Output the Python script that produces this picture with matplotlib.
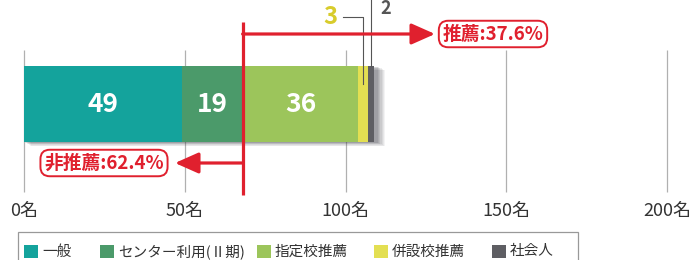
import matplotlib
matplotlib.use("Agg")
import matplotlib.pyplot as plt
from matplotlib.patches import Rectangle
import matplotlib.transforms as mtransforms
import numpy as np

plt.rcParams['font.family'] = ['Noto Sans CJK JP', 'DejaVu Sans']

# ---- data ----
categories = ["一般", "センター利用(Ⅱ期)", "指定校推薦", "併設校推薦", "社会人"]
values = [49, 19, 36, 3, 2]
colors = ["#14a39c", "#4b9a6a", "#9cc55b", "#e3df52", "#5e5e63"]
ticks = [0, 50, 100, 150, 200]
tick_labels = ["0名", "50名", "100名", "150名", "200名"]
label_recommend = "推薦:37.6%"
label_nonrecommend = "非推薦:62.4%"
n_nonrecommend_groups = 2  # 一般 + センター利用

RED = "#e0202e"

W, H = 697, 260
fig = plt.figure(figsize=(W / 100, H / 100), dpi=100)
ax = fig.add_axes([0, 0, 1, 1])
PX = 3.215  # pixels per unit
X0 = 24
ax.set_xlim(-X0 / PX, (W - X0) / PX)
ax.set_ylim(H, 0)
ax.axis("off")

# pixel transform (y downward)
P = mtransforms.Affine2D().scale(1 / W, -1 / H).translate(0, 1) + fig.transFigure

# grid lines
ax.vlines(ticks, 50, 192, colors="#b0b0b0", lw=0.9, zorder=1)
for t, lab in zip(ticks, tick_labels):
    ax.text(t, 211, lab, ha="center", va="center", fontsize=13, color="#333333")

# bar
bar_y, bar_h = 104, 76
lefts = np.concatenate([[0], np.cumsum(values)[:-1]])
total = sum(values)
# shadow
for i, a in enumerate([0.06, 0.07, 0.08, 0.09, 0.10, 0.11, 0.12]):
    off = 7 - i
    ax.add_patch(Rectangle((0 + off / PX, bar_y - bar_h / 2 + off * 0.6), total + (4 - i * 0.3) / PX,
                           bar_h, facecolor="#404048", alpha=a, lw=0, zorder=2))
ax.barh(bar_y, values, left=lefts, height=bar_h, color=colors, zorder=3, lw=0)
for v, l in zip(values[:3], lefts[:3]):
    ax.text(l + v / 2, bar_y + 1, str(v), ha="center", va="center", color="white",
            fontsize=19, fontweight="bold", zorder=4)

# small-value callouts
c3 = lefts[3] + values[3] / 2
c2 = lefts[4] + values[4] / 2
ax.plot([c3 - 6.2, c3, c3], [17, 17, 84], color="#555555", lw=0.8, zorder=5)
ax.text(c3 - 10.2, 17, str(values[3]), ha="center", va="center", color="#d8cc2c",
        fontsize=17, fontweight="bold", zorder=5)
ax.plot([c2, c2], [0, bar_y - bar_h / 2], color="#555555", lw=0.8, zorder=5)
ax.text(c2 + 4.5, 9, str(values[4]), ha="center", va="center", color="#555555",
        fontsize=13, fontweight="bold", zorder=5)

# red split line
split = sum(values[:n_nonrecommend_groups])
ax.plot([split, split], [22, 195], color=RED, lw=2.3, zorder=6, solid_capstyle="butt")
ax.annotate("", xy=((435 - X0) / PX, 34), xytext=(split, 34),
            arrowprops=dict(arrowstyle="-|>,head_length=0.9,head_width=0.4", color=RED,
                            lw=2.3, shrinkA=0, shrinkB=0, mutation_scale=16), zorder=6)
ax.annotate("", xy=((175 - X0) / PX, 163), xytext=(split, 163),
            arrowprops=dict(arrowstyle="-|>,head_length=0.9,head_width=0.4", color=RED,
                            lw=2.3, shrinkA=0, shrinkB=0, mutation_scale=16), zorder=6)
box = dict(boxstyle="round,pad=0.2,rounding_size=0.5", facecolor="white", edgecolor=RED, lw=1.4)
ax.text(493, 34, label_recommend, transform=P, ha="center", va="center", color=RED,
        fontsize=13.5, fontweight="bold", bbox=box, zorder=7)
ax.text(104, 163, label_nonrecommend, transform=P, ha="center", va="center", color=RED,
        fontsize=13.5, fontweight="bold", bbox=box, zorder=7)

# legend (manual, box cut at figure bottom)
ax.add_patch(Rectangle((18, 232), 560, 40, transform=P, facecolor="white",
                       edgecolor="#999999", lw=0.9, zorder=8, clip_on=False))
leg_x = [24, 100, 257, 374, 492]
for x, c, lab in zip(leg_x, colors, categories):
    ax.add_patch(Rectangle((x, 245), 14, 13, transform=P, facecolor=c, lw=0, zorder=9))
    ax.text(x + 18, 251.5, lab, transform=P, ha="left", va="center", fontsize=10.5,
            color="#333333", zorder=9)

fig.savefig("out.png", dpi=100)
